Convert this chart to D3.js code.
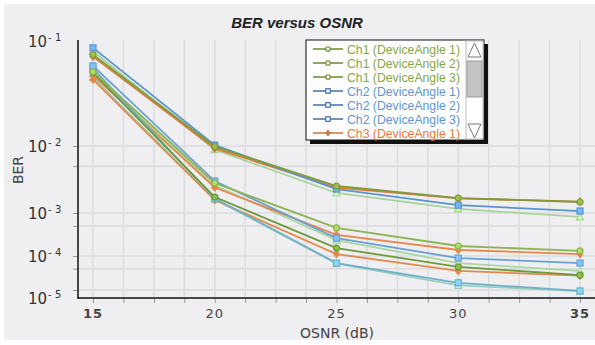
<!DOCTYPE html>
<html><head><meta charset="utf-8">
<script src="https://cdn.jsdelivr.net/npm/d3@7"></script>
<style>body{margin:0;background:#fff}svg{display:block}</style>
</head><body><svg id="c" width="595" height="345"></svg>
<script>
// ---- data ----
const osnr = [15, 20, 25, 30, 35];
const xTicks = [15, 20, 25, 30, 35];
const xMinor = [16.25, 17.5, 18.75, 21.25, 22.5, 23.75, 26.25, 27.5, 28.75, 31.25, 32.5, 33.75];
const yMajor = [1e-1, 1e-2, 1e-3, 1e-4, 1e-5];
const yMajorExp = ["1", "2", "3", "4", "5"];
const yGrid = [1e-2, 5e-3, 1e-3, 5e-4, 1e-4, 5e-5, 1.55e-5];
const seriesNames = ["Ch1 (DeviceAngle 1)","Ch1 (DeviceAngle 2)","Ch1 (DeviceAngle 3)",
  "Ch2 (DeviceAngle 1)","Ch2 (DeviceAngle 2)","Ch2 (DeviceAngle 3)",
  "Ch3 (DeviceAngle 1)","Ch3 (DeviceAngle 2)","Ch3 (DeviceAngle 3)",
  "Ch4 (DeviceAngle 1)","Ch4 (DeviceAngle 2)","Ch4 (DeviceAngle 3)"];
const ch1a1 = [0.074, 0.0098, 0.00253, 0.00167, 0.00146];
const ch1a2 = [0.051, 0.0028, 0.00045, 0.000171, 0.000131];
const ch1a3 = [0.050, 0.00173, 0.000153, 0.000055, 0.000035];
const ch2a1 = [0.086, 0.0102, 0.00228, 0.00131, 0.00107];
const ch2a2 = [0.058, 0.0030, 0.00026, 0.000089, 0.000068];
const ch2a3 = [0.055, 0.00165, 0.000068, 0.000023, 0.0000147];
const ch3a1 = [0.071, 0.0092, 0.0024, 0.00165, 0.00148];
const ch3a2 = [0.047, 0.0024, 0.00031, 0.000138, 0.000111];
const ch3a3 = [0.043, 0.00156, 0.000111, 0.000044, 0.000034];
const ch4a1 = [0.080, 0.0088, 0.00199, 0.00115, 0.00081];
const ch4a2 = [0.049, 0.0026, 0.000235, 0.000068, 0.000044];
const ch4a3 = [0.045, 0.00160, 0.000066, 0.000020, 0.0000145];
const seriesValues = [ch1a1, ch1a2, ch1a3, ch2a1, ch2a2, ch2a3, ch3a1, ch3a2, ch3a3, ch4a1, ch4a2, ch4a3];
const legendVisible = 7;

// ---- styles ----
const lineColors = ["#7f9b3c","#8db352","#6e9a3a","#5b93cf","#6a9fd4","#6fb0c8",
  "#e07a3a","#e8874a","#e38a4a","#a6d49a","#a9d6a0","#98d0c0"];
const shapes = ["circle","circle","circle","square","square","square","diamond","diamond","diamond","triangle","triangle","triangle"];
const legendText = ["#86a64a","#86a64a","#86a64a","#5f95d0","#5f95d0","#5f95d0","#e07a40"];
const legendLine = ["#6b8a30","#6b8a30","#6b8a30","#3f6fa8","#3f6fa8","#3f6fa8","#d0703a"];

const svg = d3.select("#c");
svg.append("rect").attr("x",4).attr("y",4).attr("width",591).attr("height",336).attr("fill","#efeff1");

const x = d3.scaleLinear().domain([15, 35]).range([93, 580]);
const y = d3.scaleLog().domain(yMajor).range([41, 146, 213, 256, 298]);
const pL = 78, pB = 298, pT = 40, pR = 595;

// gridlines
const g = svg.append("g");
g.selectAll(".vg").data(xTicks.concat(xMinor)).join("line")
  .attr("x1", d => x(d)).attr("x2", d => x(d)).attr("y1", pT).attr("y2", pB)
  .attr("stroke", "#dcdce0").attr("stroke-width", 1.5);
g.selectAll(".hg").data(yGrid).join("line")
  .attr("x1", pL).attr("x2", pR).attr("y1", d => y(d)).attr("y2", d => y(d))
  .attr("stroke", "#dcdce0").attr("stroke-width", 1.5);

// axes
const xAxis = d3.axisBottom(x).tickValues(xTicks.concat(xMinor)).tickSize(5).tickFormat("");
const xa = svg.append("g").attr("transform", `translate(0,${pB})`).call(xAxis);
xa.select(".domain").remove();
xa.selectAll("line").attr("stroke", "#999");
const yAxis = d3.axisLeft(y).tickValues(yGrid).tickSize(5).tickFormat("");
const ya = svg.append("g").attr("transform", `translate(${pL},0)`).call(yAxis);
ya.select(".domain").remove();
ya.selectAll("line").attr("stroke", "#999");
svg.append("line").attr("x1", pL).attr("x2", pL).attr("y1", pT).attr("y2", pB + 1).attr("stroke", "#111").attr("stroke-width", 1.5);
svg.append("line").attr("x1", pL).attr("x2", pR).attr("y1", pB).attr("y2", pB).attr("stroke", "#111").attr("stroke-width", 1.5);

// x tick labels
svg.selectAll(".xl").data(xTicks).join("text")
  .attr("x", d => x(d)).attr("y", 318).attr("text-anchor", "middle")
  .attr("font-family", "DejaVu Sans, sans-serif").attr("font-size", 13)
  .attr("font-weight", (d, i) => (i === 0 || i === xTicks.length - 1) ? "bold" : "normal")
  .attr("fill", "#444").attr("letter-spacing", 1)
  .text(d => d);

// y tick labels
const yl = svg.selectAll(".yl").data(yMajor).join("text")
  .attr("x", 28).attr("y", d => y(d) + 6)
  .attr("font-family", "DejaVu Sans, sans-serif").attr("font-size", 15).attr("fill", "#333");
yl.append("tspan").text("10");
yl.append("tspan").attr("dy", -6).attr("font-size", 10).attr("dx", 1).text((d, i) => "- " + yMajorExp[i]);

// axis titles
svg.append("text").attr("x", 337).attr("y", 338).attr("text-anchor", "middle")
  .attr("font-family", "DejaVu Sans, sans-serif").attr("font-size", 14).attr("fill", "#444").text("OSNR (dB)");
svg.append("text").attr("transform", "translate(23,170) rotate(-90)").attr("text-anchor", "middle")
  .attr("font-family", "DejaVu Sans, sans-serif").attr("font-size", 14).attr("fill", "#444").text("BER");
svg.append("text").attr("x", 297).attr("y", 28).attr("text-anchor", "middle")
  .attr("font-family", "Liberation Sans, Arial, sans-serif").attr("font-size", 15)
  .attr("font-weight", "bold").attr("font-style", "italic").attr("fill", "#222").text("BER versus OSNR");

// markers
function marker(sel, shape, cx, cy, s, color, fill) {
  if (shape === "circle") sel.append("circle").attr("cx", cx).attr("cy", cy).attr("r", s / 2).attr("fill", fill).attr("stroke", color).attr("stroke-width", 1.2);
  else if (shape === "square") sel.append("rect").attr("x", cx - s / 2).attr("y", cy - s / 2).attr("width", s).attr("height", s).attr("fill", fill).attr("stroke", color).attr("stroke-width", 1.2);
  else if (shape === "diamond") sel.append("path").attr("d", `M${cx},${cy - s / 2 - 1}L${cx + s / 2},${cy}L${cx},${cy + s / 2 + 1}L${cx - s / 2},${cy}Z`).attr("fill", color).attr("stroke", color);
  else sel.append("path").attr("d", `M${cx},${cy - s / 2 - 0.5}L${cx + s / 2 + 0.5},${cy + s / 2}L${cx - s / 2 - 0.5},${cy + s / 2}Z`).attr("fill", fill).attr("stroke", color).attr("stroke-width", 1.2);
}

// series
const line = d3.line().x((d, i) => x(osnr[i])).y(d => y(d));
const order = [11, 10, 9, 8, 7, 6, 5, 4, 3, 2, 1, 0];
order.forEach(k => {
  const gs = svg.append("g");
  gs.append("path").attr("d", line(seriesValues[k])).attr("fill", "none")
    .attr("stroke", lineColors[k]).attr("stroke-width", 1.8);
  seriesValues[k].forEach((v, i) => marker(gs, shapes[k], x(osnr[i]), y(v), 6, lineColors[k], d3.color(lineColors[k]).brighter(0.6)));
});

// legend
const lg = svg.append("g");
lg.append("rect").attr("x", 310).attr("y", 44).attr("width", 178).attr("height", 100).attr("fill", "#111");
lg.append("rect").attr("x", 306).attr("y", 40).attr("width", 178).attr("height", 100).attr("fill", "#fff").attr("stroke", "#111");
// scrollbar
lg.append("rect").attr("x", 466).attr("y", 41).attr("width", 17).attr("height", 98).attr("fill", "#fff").attr("stroke", "#bbb");
lg.append("path").attr("d", "M468,57L474.5,43L481,57Z").attr("fill", "#fff").attr("stroke", "#777");
lg.append("rect").attr("x", 467).attr("y", 61).attr("width", 15).attr("height", 36).attr("fill", "#c4c4c4").attr("stroke", "#999");
lg.append("path").attr("d", "M468,124L474.5,138L481,124Z").attr("fill", "#fff").attr("stroke", "#777");
d3.range(legendVisible).forEach(i => {
  const cy = 49 + i * 14;
  lg.append("line").attr("x1", 313).attr("x2", 343).attr("y1", cy).attr("y2", cy).attr("stroke", legendLine[i]).attr("stroke-width", 1.5);
  if (shapes[i] === "diamond") marker(lg, "diamond", 328, cy, 4, legendLine[i], "#fff");
  else marker(lg, shapes[i], 328, cy, 4.5, legendLine[i], "#fff");
  lg.append("text").attr("x", 347).attr("y", cy + 4.5).attr("font-family", "Liberation Sans, Arial, sans-serif")
    .attr("font-size", 12.5).attr("fill", legendText[i]).attr("textLength", 113).attr("lengthAdjust", "spacingAndGlyphs")
    .text(seriesNames[i]);
});
</script></body></html>
